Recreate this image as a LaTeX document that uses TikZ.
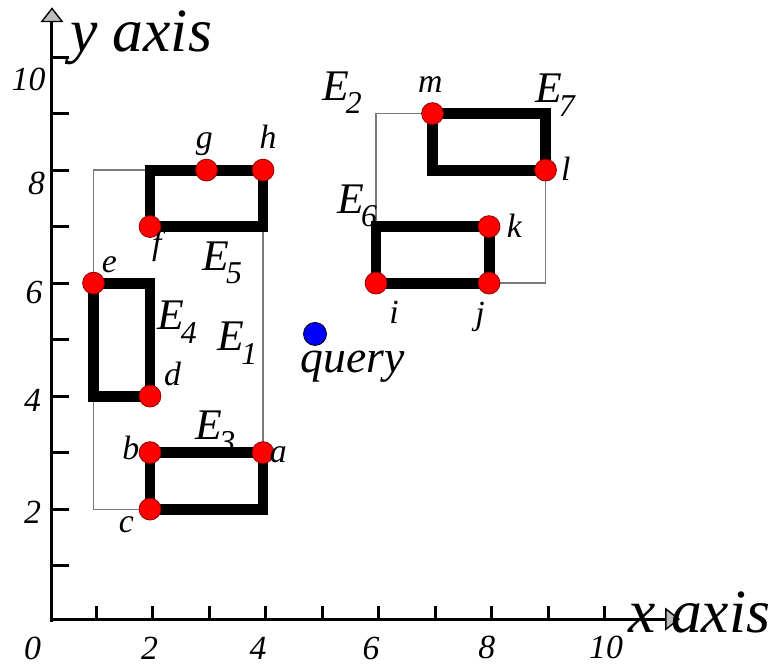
\documentclass[tikz,border=0pt]{standalone}
\usepackage{fontspec}
\setmainfont{Liberation Serif}
\usetikzlibrary{arrows.meta}
\definecolor{ptred}{HTML}{FF0000}
\definecolor{qblue}{HTML}{0000FF}
\definecolor{framegray}{HTML}{7A7A7A}
\definecolor{tipgray}{HTML}{BDBDBD}
\newcommand{\fsz}[1]{\fontsize{#1}{#1}\selectfont}
\newcommand{\Esub}[1]{E\kern-1.5pt\raisebox{-7pt}{\fsz{16}#1}}
\tikzset{axisline/.style={line width=1.5pt, -{Triangle[length=7.5pt,width=11.5pt,fill=tipgray,line width=0.7pt]}}, axtick/.style={line width=1.5pt}, mbr/.style={draw=framegray, line width=0.6pt}, entry/.style={line width=5.5pt}, pt/.style={circle, fill=ptred, draw=ptred!55!black, line width=0.4pt, minimum size=11pt, inner sep=0pt}, qpt/.style={circle, fill=qblue, draw=black, line width=0.4pt, minimum size=11.6pt, inner sep=0pt}, lab/.style={font=\fsz{17}\itshape, inner sep=0pt, anchor=base}, elab/.style={font=\fsz{22}\itshape, inner sep=0pt, anchor=base west}, axlab/.style={font=\fsz{31}\itshape, inner sep=0pt, anchor=base west}}

\begin{document}
\begin{tikzpicture}
\useasboundingbox (-0.655,-0.761) rectangle (12.99,11.01);
% axes
\coordinate (yorig) at (0.265,0); \coordinate (ytop) at (0.265,10.88);
\coordinate (xorig) at (0.265,0.053); \coordinate (xend) at (11.38,0.053);
\draw[axisline] (yorig) -- (ytop); \draw[axisline] (xorig) -- (xend);
\foreach \y in {1,...,10} \draw[axtick] (0.265,\y) -- ++(0.3,0);
\foreach \x in {1,...,10} \draw[axtick] (\x+0.05,0.053) -- ++(0,0.23);
\node[axlab] (ylab) at (0.58,10.09) {y axis}; \node[axlab] (xlab) at (10.46,-0.18) {x axis};
\node[lab] (y10) at (-0.15,9.40) {10}; \node[lab] (y8) at (-0.01,7.56) {8}; \node[lab] (y6) at (-0.05,5.63) {6};
\node[lab] (y4) at (-0.08,3.72) {4}; \node[lab] (y2) at (-0.08,1.75) {2};
\node[lab] (x0) at (-0.08,-0.67) {0}; \node[lab] (x2) at (1.99,-0.67) {2}; \node[lab] (x4) at (3.91,-0.67) {4};
\node[lab] (x6) at (5.91,-0.67) {6}; \node[lab] (x8) at (7.96,-0.64) {8}; \node[lab] (x10) at (10.07,-0.64) {10};
% bounding rectangles
\draw[mbr] (1,2) rectangle (4,8); \draw[mbr] (6,6) rectangle (9,9);
% entries
\draw[entry] (2,2) rectangle (4,3); \draw[entry] (1,4) rectangle (2,6); \draw[entry] (2,7) rectangle (4,8);
\draw[entry] (6,6) rectangle (8,7); \draw[entry] (7,8) rectangle (9,9);
% points
\node[pt] (a) at (4,3) {}; \node[pt] (b) at (2,3) {}; \node[pt] (c) at (2,2) {}; \node[pt] (d) at (2,4) {};
\node[pt] (e) at (1,6) {}; \node[pt] (f) at (2,7) {}; \node[pt] (g) at (3,8) {}; \node[pt] (h) at (4,8) {};
\node[pt] (i) at (6,6) {}; \node[pt] (j) at (8,6) {}; \node[pt] (k) at (8,7) {}; \node[pt] (l) at (9,8) {}; \node[pt] (m) at (7,9) {};
\node[qpt] (q) at (4.92,5.10) {}; \node[lab, font=\fsz{23}\itshape] (qlab) at (5.59,4.41) {query};
% point labels
\node[lab] (la) at (4.27,2.83) {a}; \node[lab] (lb) at (1.66,2.87) {b}; \node[lab] (lc) at (1.58,1.58) {c};
\node[lab] (ld) at (2.40,4.19) {d}; \node[lab] (le) at (1.28,6.19) {e}; \node[lab] (lf) at (2.12,6.50) {f};
\node[lab] (lg) at (2.96,8.39) {g}; \node[lab] (lh) at (4.09,8.39) {h}; \node[lab] (li) at (6.32,5.29) {i};
\node[lab] (lj) at (7.84,5.26) {j}; \node[lab] (lk) at (8.45,6.81) {k}; \node[lab] (ll) at (9.36,7.82) {l};
\node[lab] (lm) at (6.96,9.38) {m};
% rectangle labels
\node[elab] (E1) at (3.19,4.81) {\Esub{1}}; \node[elab] (E2) at (5.04,9.24) {\Esub{2}}; \node[elab] (E3) at (2.80,3.24) {\Esub{3}};
\node[elab] (E4) at (2.12,5.17) {\Esub{4}}; \node[elab] (E5) at (2.92,6.23) {\Esub{5}}; \node[elab] (E6) at (5.31,7.24) {\Esub{6}};
\node[elab] (E7) at (8.81,9.20) {\Esub{7}};
\end{tikzpicture}
\end{document}
